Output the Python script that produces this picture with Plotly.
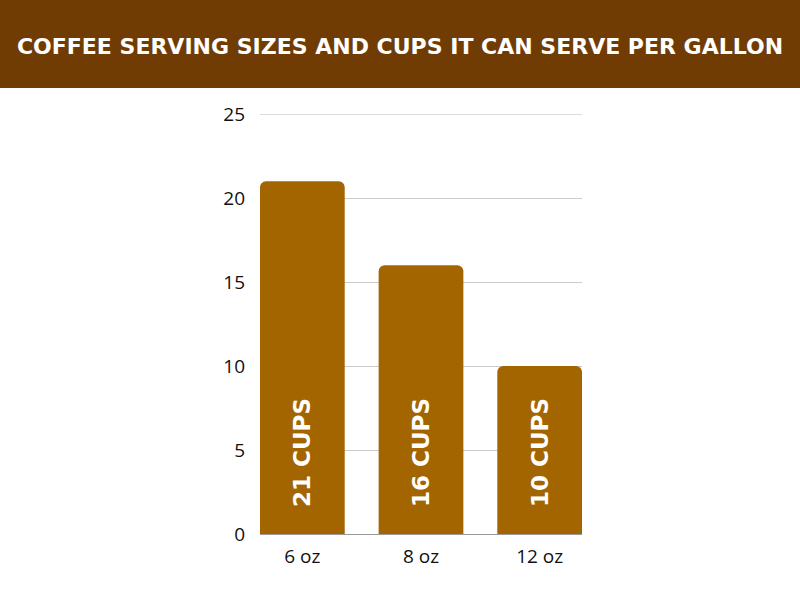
import plotly.graph_objects as go

categories = ["6 oz", "8 oz", "12 oz"]
cups = [21, 16, 10]
labels = ["21 CUPS", "16 CUPS", "10 CUPS"]
y_ticks = [0, 5, 10, 15, 20, 25]
title_text = "COFFEE SERVING SIZES AND CUPS IT CAN SERVE PER GALLON"

BAR = "#A36500"
HEADER = "#713C04"

fig = go.Figure(
    go.Bar(
        x=categories,
        y=cups,
        text=labels,
        textposition="inside",
        insidetextanchor="start",
        textangle=-90,
        texttemplate="\u00a0\u00a0\u00a0%{text}",
        textfont=dict(family="DejaVu Sans", size=23, color="white", weight=700),
        marker=dict(color=BAR, line=dict(width=0)),
        width=0.714,
        hoverinfo="skip",
    )
)

fig.update_layout(
    width=800,
    height=600,
    paper_bgcolor="white",
    plot_bgcolor="white",
    margin=dict(l=260, r=218, t=114, b=66),
    barcornerradius=6,
    showlegend=False,
    title=dict(
        text=title_text,
        x=0.5,
        xref="container",
        xanchor="center",
        y=1 - 46 / 600,
        yanchor="middle",
        yref="container",
        font=dict(family="DejaVu Sans", size=22, color="white", weight=700),
    ),
    shapes=[
        dict(
            type="rect",
            xref="paper",
            yref="paper",
            x0=-260 / 322 - 0.01,
            x1=540 / 322 + 0.01,
            y0=1 + (114 - 88) / 420,
            y1=1 + 114 / 420 + 0.01,
            fillcolor=HEADER,
            line=dict(width=0),
            layer="below",
        ),
        dict(
            type="line",
            xref="paper",
            yref="y",
            x0=0,
            x1=1,
            y0=max(y_ticks),
            y1=max(y_ticks),
            line=dict(color="#b8b8b8", width=1),
            layer="below",
        ),
    ],
    font=dict(family="Open Sans", color="#111111"),
)

fig.update_xaxes(
    range=[-0.357, 2.357],
    showgrid=False,
    showline=True,
    linecolor="#999999",
    linewidth=1,
    ticks="",
    tickfont=dict(size=19, color="#111111"),
    ticklabelstandoff=5,
)
fig.update_yaxes(
    range=[0, 25],
    tickvals=y_ticks,
    showgrid=True,
    gridcolor="#cccccc",
    gridwidth=1,
    zeroline=False,
    showline=False,
    ticks="",
    tickfont=dict(size=19, color="#111111"),
    ticklabelstandoff=14,
)

fig.write_html(
    "out.html",
    config={"displayModeBar": False},
    post_script="document.body.style.margin='0';document.body.style.padding='0';",
)
